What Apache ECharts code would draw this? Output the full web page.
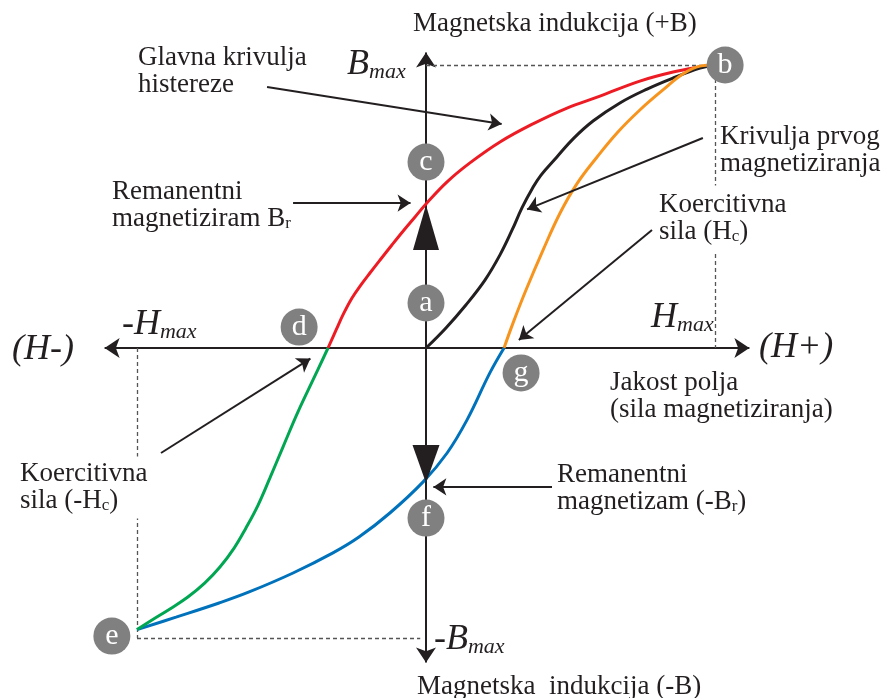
<!DOCTYPE html>
<html>
<head>
<meta charset="utf-8">
<script src="https://cdn.jsdelivr.net/npm/echarts/dist/echarts.min.js"></script>
<style>
html,body{margin:0;padding:0;background:#fff;}
#chart{width:882px;height:698px;}
</style>
</head>
<body>
<div id="chart"></div>
<script>
// ---- data (H in units of Hmax, B in units of Bmax) ----
const mainUpper = [[-0.339,0],[-0.311,0.064],[-0.284,0.124],[-0.256,0.177],[-0.225,0.223],[-0.194,0.265],[-0.159,0.311],[-0.118,0.364],[-0.076,0.417],[-0.038,0.463],[0,0.509],[0.073,0.587],[0.152,0.654],[0.256,0.728],[0.370,0.792],[0.488,0.848],[0.602,0.890],[0.740,0.943],[0.855,0.975],[0.948,0.993],[1,1]];
const firstMag = [[0,0],[0.069,0.071],[0.138,0.152],[0.204,0.240],[0.256,0.329],[0.298,0.417],[0.332,0.495],[0.367,0.562],[0.398,0.611],[0.453,0.675],[0.509,0.739],[0.578,0.802],[0.671,0.866],[0.765,0.915],[0.855,0.954],[0.948,0.989],[1,1]];
const returnUpper = [[0.270,0],[0.301,0.088],[0.346,0.205],[0.405,0.346],[0.464,0.477],[0.522,0.580],[0.592,0.675],[0.661,0.760],[0.740,0.841],[0.820,0.912],[0.889,0.968],[0.948,0.996],[1,1]];
const lowerBranch = [[-1.0,-0.995],[-0.865,-0.951],[-0.716,-0.901],[-0.612,-0.862],[-0.460,-0.795],[-0.322,-0.724],[-0.232,-0.668],[-0.125,-0.583],[-0.010,-0.473],[0.073,-0.371],[0.142,-0.254],[0.221,-0.088],[0.270,0]];
const descending = [[-1.0,-0.995],[-0.948,-0.961],[-0.886,-0.922],[-0.824,-0.880],[-0.765,-0.830],[-0.713,-0.774],[-0.664,-0.707],[-0.623,-0.636],[-0.581,-0.555],[-0.540,-0.459],[-0.495,-0.350],[-0.443,-0.226],[-0.391,-0.113],[-0.339,0]];

const pointLabels = ['a','b','c','d','e','f','g'];
const pointH = [0, 1.035, 0, -0.439, -1.087, 0, 0.329];
const pointB = [0.159, 1.0, 0.657, 0.074, -1.018, -0.601, -0.088];

const axisH = [[-1.138,0],[1.145,0]];
const axisB = [[0,-1.138],[0,1.071]];
const guideLines = [
  [[0,1],[1,1]], [[1,1],[1,0]],
  [[-1.0,0],[-1.0,-1.025]], [[-1.0,-1.025],[-0.02,-1.025]]
];
const pointerLines = [
  [[-0.550,0.922],[0.284,0.788]],
  [[-0.460,0.512],[-0.031,0.512]],
  [[0.958,0.742],[0.329,0.481]],
  [[0.782,0.417],[0.304,0.014]],
  [[-0.917,-0.371],[-0.381,-0.025]],
  [[0.436,-0.491],[0.003,-0.491]]
];
const directionUp = [[0, 0.426]];
const directionDown = [[0, -0.410]];

// ---- layout ----
const W = 882, H = 698;
const ORIGIN = [426, 348];
const SCALE = [289, 283];
const INK = '#231f20';
const SERIF = '"Liberation Serif","Times New Roman",serif';

function pull(a, b, px) {
  const dx = (b[0]-a[0])*SCALE[0], dy = (b[1]-a[1])*SCALE[1];
  const k = px / Math.hypot(dx, dy);
  return [b[0]-(b[0]-a[0])*k, b[1]-(b[1]-a[1])*k];
}
function arrowSeg(seg, px) { return {coords:[seg[0], pull(seg[0], seg[1], px)]}; }
function doubleSeg(seg, px) { return {coords:[pull(seg[1], seg[0], px), pull(seg[0], seg[1], px)]}; }

const chart = echarts.init(document.getElementById('chart'), null, {renderer:'canvas'});

const rich = {
  n: {fontFamily:SERIF, fontSize:27, lineHeight:27, fill:INK, verticalAlign:'bottom'},
  s: {fontFamily:SERIF, fontSize:17, lineHeight:17, fill:INK, verticalAlign:'bottom'},
  i: {fontFamily:SERIF, fontSize:36, lineHeight:36, fontStyle:'italic', fill:INK, verticalAlign:'bottom'},
  m: {fontFamily:SERIF, fontSize:22, lineHeight:22, fontStyle:'italic', fill:INK, verticalAlign:'bottom'}
};
function txt(text, x, y, va, extra) {
  return {type:'text', z:100, x:x, y:y, style:Object.assign({text:text, rich:rich, align:'left', verticalAlign:va}, extra||{})};
}
const texts = [
  txt('{n|Magnetska indukcija (+B)}', 413, 10, 'top'),
  txt('{n|Glavna krivulja}\n{n|histereze}', 138, 44.5, 'top'),
  txt('{n|Remanentni}\n{n|magnetiziram B}{s|r}', 112, 178.5, 'top'),
  txt('{n|Krivulja prvog}\n{n|magnetiziranja}', 720, 123.5, 'top'),
  txt('{n|Koercitivna}\n{n|sila (H}{s|c}{n|)}', 657, 185.5, 'top', {backgroundColor:'#fff', padding:[6,2,8,2]}),
  txt('{n|Jakost polja}\n{n|(sila magnetiziranja)}', 610, 369.5, 'top'),
  txt('{n|Koercitivna}\n{n|sila (-H}{s|c}{n|)}', 18, 456.5, 'top', {backgroundColor:'#fff', padding:[4,2,4,2]}),
  txt('{n|Remanentni}\n{n|magnetizam (-B}{s|r}{n|)}', 557, 461.5, 'top'),
  txt('{n|Magnetska  indukcija (-B)}', 417, 673.5, 'top'),
  txt('{i|(H-)}', 12, 350, 'middle'),
  txt('{i|(H+)}', 759, 348, 'middle'),
  txt('{i|-H}{m|max}', 122, 325, 'middle'),
  txt('{i|H}{m|max}', 651, 318, 'middle'),
  txt('{i|B}{m|max}', 347, 65, 'middle'),
  txt('{i|-B}{m|max}', 434, 640, 'middle')
];

function curve(data, color) {
  return {type:'line', data:data, showSymbol:false, smooth:0.4, z:3,
    lineStyle:{color:color, width:3}, silent:true};
}

const option = {
  animation:false,
  backgroundColor:'#fff',
  grid:{left:0, right:0, top:0, bottom:0, outerBoundsMode:'none'},
  xAxis:{type:'value', show:false, min:-ORIGIN[0]/SCALE[0], max:(W-ORIGIN[0])/SCALE[0]},
  yAxis:{type:'value', show:false, min:-(H-ORIGIN[1])/SCALE[1], max:ORIGIN[1]/SCALE[1]},
  series:[
    {type:'lines', coordinateSystem:'cartesian2d', z:1, symbol:['arrow','arrow'], symbolSize:15,
      lineStyle:{color:INK, width:2, opacity:1, curveness:0},
      data:[doubleSeg(axisH, 7.5), doubleSeg(axisB, 7.5)]},
    {type:'lines', coordinateSystem:'cartesian2d', z:1, symbol:'none',
      lineStyle:{color:'#555', width:1.3, type:[4,3], opacity:1, curveness:0},
      data:guideLines.map(s=>({coords:s}))},
    curve(mainUpper, '#ed1c24'),
    curve(firstMag, INK),
    curve(returnUpper, '#f7941d'),
    curve(lowerBranch, '#0072bc'),
    curve(descending, '#00a651'),
    {type:'lines', coordinateSystem:'cartesian2d', z:4, symbol:['none','arrow'], symbolSize:13,
      lineStyle:{color:INK, width:2, opacity:1, curveness:0},
      data:pointerLines.map(s=>arrowSeg(s, 6.5))},
    {type:'scatter', z:5, symbol:'triangle', symbolSize:[26,45], data:directionUp,
      itemStyle:{color:INK, opacity:1}, silent:true},
    {type:'scatter', z:5, symbol:'triangle', symbolSize:[27,38], symbolRotate:180, data:directionDown,
      itemStyle:{color:INK, opacity:1}, silent:true},
    {type:'scatter', z:6, symbol:'circle', symbolSize:37,
      itemStyle:{color:'#808080', opacity:1},
      label:{show:true, position:'inside', formatter:'{b}', color:'#fff', fontFamily:SERIF, fontSize:30},
      data:pointLabels.map((l,i)=>({name:l, value:[pointH[i], pointB[i]]}))}
  ],
  graphic:texts
};
chart.setOption(option);
</script>
</body>
</html>
